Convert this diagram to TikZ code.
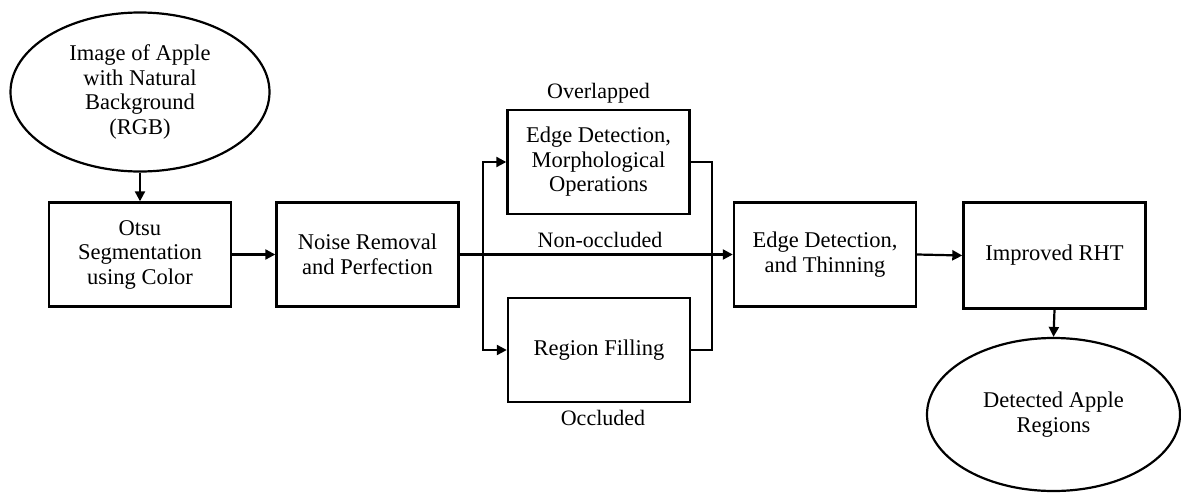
\documentclass[tikz,border=0pt]{standalone}
\usepackage{fontspec}
\setmainfont{Liberation Serif}
\usetikzlibrary{arrows.meta,shapes.geometric}
\begin{document}
\begin{tikzpicture}[x=1pt,y=-1pt,
  every node/.style={font=\rmfamily\fontsize{22.5}{24.5}\selectfont, align=center, inner sep=0pt},
  stepbox/.style={draw, line width=2.4pt, rectangle, minimum width=182pt, minimum height=104pt},
  terminal/.style={draw, line width=2.2pt, ellipse},
  link/.style={line width=2.2pt},
  arr/.style={link, -{Triangle[length=10pt,width=10pt]}},
  lbl/.style={font=\rmfamily\fontsize{22}{24}\selectfont}]
\useasboundingbox (0,0) rectangle (1181,493);

% terminals
\node[terminal, minimum width=259pt, minimum height=159pt] (img) at (140,92)
  {Image of Apple\\with Natural\\Background\\(RGB)};
\node[terminal, minimum width=253pt, minimum height=153pt] (det) at (1053.5,414.5)
  {Detected Apple\\Regions};

% processing steps
\node[stepbox] (otsu)  at (140,254.5)   {Otsu\\Segmentation\\using Color};
\node[stepbox] (noise) at (367.5,254.5) {Noise Removal\\and Perfection};
\node[stepbox] (morph) at (598.5,162)   {Edge Detection,\\Morphological\\Operations};
\node[stepbox] (fill)  at (599,350)     {Region Filling};
\node[stepbox] (thin)  at (825,254.5)   {Edge Detection,\\and Thinning};
\node[stepbox, minimum height=106pt] (rht) at (1054.5,255.5) {Improved RHT};

% branch labels
\node[lbl, anchor=south] (lover) at (598.5,103) {Overlapped};
\node[lbl] (locc) at (603,418) {Occluded};
\node[lbl] (lnon) at (600,240) {Non-occluded};

% split and merge points
\coordinate (split) at (483,254.5);
\coordinate (merge) at (712,254.5);

% connectors
\draw[arr] (img.south) -- (otsu.north);
\draw[arr] (otsu.east) -- (noise.west);
\draw[arr] (noise.east) -- (thin.west);
\draw[arr] (split) |- (morph.west);
\draw[arr] (split) |- (fill.west);
\draw[link] (morph.east) -| (merge);
\draw[link] (fill.east) -| (merge);
\draw[arr] (thin.east) -- (rht.west);
\draw[arr] (rht.south) -- (det.north);
\end{tikzpicture}
\end{document}
